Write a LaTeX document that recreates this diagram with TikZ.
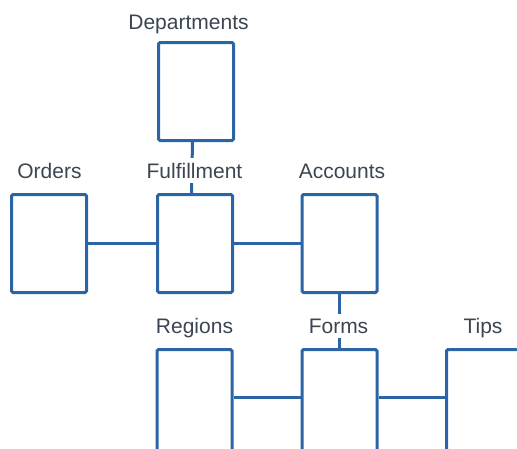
\documentclass[tikz,border=0pt]{standalone}
\usepackage{fontspec}
\setmainfont{Liberation Sans}
\definecolor{boxblue}{RGB}{43,101,165}
\definecolor{lblgray}{RGB}{59,70,82}
\begin{document}
\begin{tikzpicture}[x=1pt,y=-1pt,
  box/.style={draw=boxblue, line width=3pt, rounded corners=1.5pt, minimum width=75pt, minimum height=98pt, inner sep=0pt},
  lowbox/.style={box, minimum height=120pt},
  lbl/.style={text=lblgray, font=\fontsize{21}{25}\selectfont, anchor=base, fill=white, inner xsep=2pt, inner ysep=5pt},
  link/.style={draw=boxblue, line width=3pt}]
\useasboundingbox (0,0) rectangle (517,448);
\begin{scope}
\clip (0,0) rectangle (517,448);
\node[box] (dept) at (196,91.5) {};
\node[box] (fulf) at (195,243.5) {};
\node[box] (orders) at (49,243.5) {};
\node[box] (acc) at (339.5,243.5) {};
\node[lowbox] (regions) at (194.5,409.5) {};
\node[lowbox] (forms) at (339.5,409.5) {};
\node[lowbox] (tips) at (484,409.5) {};
\draw[link] ([xshift=-3.5pt]dept.south) -- ([xshift=-3.5pt]fulf.north);
\draw[link] (orders.east) -- (fulf.west);
\draw[link] (fulf.east) -- (acc.west);
\draw[link] (acc.south) -- (forms.north);
\draw[link] ([yshift=12.5pt]regions.east) -- ([yshift=12.5pt]forms.west);
\draw[link] ([yshift=12.5pt]forms.east) -- ([yshift=12.5pt]tips.west);
\node[lbl] (ldept) at (188.5,29.5) {Departments};
\node[lbl] (lfulf) at (194.5,178) {Fulfillment};
\node[lbl] (lorders) at (49.5,178) {Orders};
\node[lbl] (lacc) at (342,178) {Accounts};
\node[lbl] (lregions) at (194.5,333) {Regions};
\node[lbl] (lforms) at (338.5,333) {Forms};
\node[lbl] (ltips) at (483,333) {Tips};
\end{scope}
\end{tikzpicture}
\end{document}
